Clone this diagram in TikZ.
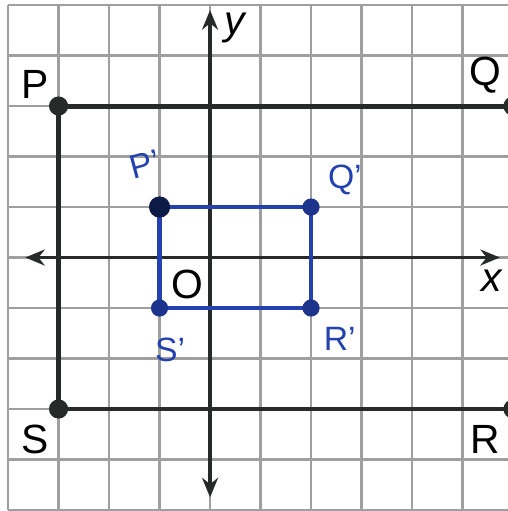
\documentclass[tikz,border=0pt]{standalone}
\usepackage{fontspec}
\setmainfont{Liberation Sans}
\usetikzlibrary{arrows.meta}
\definecolor{pen}{RGB}{35,65,175}
\definecolor{ink}{RGB}{38,42,40}
\begin{document}
\begin{tikzpicture}[>={Stealth[length=11pt,width=9pt]},
  lbl/.style={font=\fontsize{23}{25}\selectfont},
  img/.style={text=pen,font=\fontsize{19}{21}\selectfont}]
\useasboundingbox (-4.16,-5.02) rectangle (5.9,5.1);
\draw[help lines, color=gray!75, line width=1.6pt] (-4,-5) grid (6,5);
\coordinate (xl) at (-3.66,0); \coordinate (xr) at (5.74,0);
\coordinate (yb) at (0,-4.75); \coordinate (yt) at (0,4.9);
\draw[<->, line width=2.2pt, ink] (xl)--(xr);
\draw[<->, line width=2.2pt, ink] (yb)--(yt);
% PQRS
\coordinate (P) at (-3,3); \coordinate (Q) at (6,3);
\coordinate (R) at (6,-3); \coordinate (S) at (-3,-3);
\draw[line width=2.8pt, ink] (P)--(Q)--(R)--(S)--cycle;
\foreach \c in {P,Q,R,S} \fill[ink] (\c) circle (0.19);
% image P'Q'R'S'
\coordinate (P1) at (-1,1); \coordinate (Q1) at (2,1);
\coordinate (R1) at (2,-1); \coordinate (S1) at (-1,-1);
\draw[line width=2.5pt, pen] (P1)--(Q1)--(R1)--(S1)--cycle;
\fill[pen!40!black] (P1) circle (0.21);
\foreach \c in {Q1,R1,S1} \fill[pen!80!black] (\c) circle (0.17);
\node[lbl] (lP) at (-3.47,3.43) {P};
\node[lbl] (lQ) at (5.45,3.62) {Q};
\node[lbl] (lR) at (5.45,-3.6) {R};
\node[lbl] (lS) at (-3.47,-3.6) {S};
\node[lbl] (lO) at (-0.45,-0.53) {O};
\node[lbl] (lx) at (5.58,-0.45) {\textit{x}};
\node[lbl] (ly) at (0.5,4.55) {\textit{y}};
\node[img, rotate=15] (lP1) at (-1.29,1.84) {P'};
\node[img] (lQ1) at (2.67,1.54) {Q'};
\node[img] (lR1) at (2.57,-1.62) {R'};
\node[img] (lS1) at (-0.79,-1.82) {S'};
\end{tikzpicture}
\end{document}
